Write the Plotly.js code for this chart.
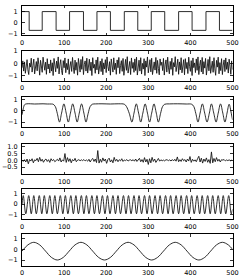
<!DOCTYPE html>
<html><head><meta charset="utf-8">
<script src="https://cdn.plot.ly/plotly-3.0.1.min.js"></script>
<style>html,body{margin:0;padding:0;background:#fff}#c{width:245px;height:280px}</style>
</head><body><div id="c"></div>
<script>
// ---- data ----
const xTicks = [0,100,200,300,400,500];

// 1: square wave (transition points)
const sqX = [0,17,48,81,113,146,178,210,243,275,307,339,372,404,437,469,500];
const sqY = [1,-0.7,1,-0.7,1,-0.7,1,-0.7,1,-0.7,1,-0.7,1,-0.7,1,-0.7,-0.7];

// 2: noise (sampled every 2)
const noiseStep = 2;
const noiseY = [
-0.35,0.20,-0.62,0.12,-0.80,-0.05,0.30,-0.52,-0.90,0.02,-0.30,0.42,-0.70,-0.18,0.35,-0.85,-0.40,0.15,-0.60,0.45,
-0.10,-0.95,0.25,-0.32,-0.72,0.50,-0.20,-0.55,0.10,-0.88,0.38,-0.45,-0.05,-0.78,0.28,-0.62,0.05,-0.98,0.40,-0.25,
-0.68,0.18,-0.40,0.52,-0.85,-0.12,0.30,-0.58,-0.92,0.22,-0.35,0.44,-0.75,0.00,-0.50,0.36,-0.88,-0.22,0.15,-0.65,
0.48,-0.30,-0.82,0.26,-0.55,0.08,-0.95,0.40,-0.15,-0.70,0.32,-0.48,0.55,-0.90,-0.10,0.20,-0.62,0.42,-0.78,-0.28,
0.34,-0.58,0.10,-0.98,0.46,-0.38,-0.08,-0.80,0.28,-0.52,0.50,-0.86,-0.20,0.18,-0.66,0.38,-0.92,0.04,-0.44,0.30,
-0.74,0.52,-0.26,-0.60,0.14,-0.95,0.36,-0.12,-0.70,0.45,-0.50,0.02,-0.88,0.28,-0.35,0.48,-0.82,-0.18,0.22,-0.64,
0.40,-0.96,-0.05,0.32,-0.56,0.54,-0.78,-0.24,0.16,-0.90,0.44,-0.40,0.08,-0.72,0.36,-0.58,0.50,-0.94,-0.14,0.26,
-0.62,0.46,-0.86,0.00,-0.46,0.38,-0.98,0.20,-0.30,0.52,-0.76,-0.10,0.30,-0.68,0.42,-0.90,-0.22,0.12,-0.54,0.48,
-0.80,0.24,-0.40,-0.92,0.36,-0.16,0.10,
-0.58,0.40,-0.94,-0.12,0.28,-0.70,0.50,-0.36,-0.84,0.16,-0.48,0.42,-0.96,0.06,-0.28,0.54,-0.66,-0.20,0.34,-0.88,
0.12,-0.52,0.46,-0.76,-0.04,0.30,-0.92,0.38,-0.42,0.08,-0.82,0.50,-0.24,-0.64,0.22,-0.98,0.44,-0.34,0.04,-0.74,
0.36,-0.56,0.52,-0.90,-0.16,0.26,-0.68,0.48,-0.86,0.14,-0.38,0.40,-0.94,-0.02,0.32,-0.60,0.54,-0.80,-0.26,0.18,
-0.72,0.46,-0.44,-0.96,0.24,-0.30,0.50,-0.84,0.06,-0.58,0.38,-0.90,-0.14,0.28,-0.66,0.44,-0.48,0.10,-0.78,0.34,
-0.22,-0.88,0.20,-0.50];

// 3: plateau + bursts (key points)
const burstX = [0,3,6,10,20,30,40,50,60,70,74,79,84,89,94,99.5,105,110,115,120.5,126,131,136,141.5,147,152,157,162,167,175,
190,210,230,243,248,255,261,266,271.5,277,282,287,292.5,298,303,308,313.5,319,324,329,334,339,350,370,390,403,
408,413,418,423,428.5,434,439.5,445,450,455.5,461,466,471.5,477,482,487,492,497,500];
const burstY = [-0.35,0.2,0.55,0.63,0.64,0.62,0.63,0.64,0.62,0.62,0.6,0.4,-0.25,-1,-0.2,0.63,-0.2,-1,-0.2,0.63,-0.2,-1,-0.2,0.63,-0.2,-1,-0.25,0.4,0.6,0.63,
0.64,0.62,0.64,0.6,0.4,-0.25,-1,-0.2,0.63,-0.2,-1,-0.2,0.63,-0.2,-1,-0.2,0.63,-0.2,-1,-0.25,0.4,0.6,0.63,0.64,0.62,0.6,
0.4,-0.25,-1,-0.2,0.63,-0.2,-1,-0.2,0.63,-0.2,-1,-0.2,0.63,-0.2,-1,-0.2,0.6,-0.2,-0.8];

// 4: spiky noise (sampled every 3)
const spikeStep = 3;
const spikeY = [
0.02,-0.08,0.05,-0.12,0.10,-0.25,0.06,-0.05,0.12,-0.18,0.04,-0.02,0.15,-0.10,0.22,-0.06,0.08,-0.14,0.03,0.10,
-0.08,0.05,-0.15,0.12,-0.03,0.06,-0.10,0.02,0.08,-0.05,0.18,-0.12,0.04,-0.06,0.50,-0.15,0.20,-0.08,0.12,-0.18,
0.06,-0.04,0.15,-0.10,0.02,0.05,-0.03,0.04,-0.02,0.06,-0.04,0.03,-0.06,0.08,-0.12,0.05,0.14,-0.08,0.10,-0.16,
0.72,-0.20,0.08,-0.14,0.18,-0.05,0.10,-0.22,0.06,0.16,-0.12,0.04,-0.18,0.22,-0.06,0.08,-0.10,0.05,-0.04,0.12,
-0.08,0.03,-0.02,0.06,-0.05,0.02,0.04,-0.03,0.05,-0.06,0.10,-0.08,0.04,0.15,-0.10,0.06,-0.14,0.20,-0.12,0.08,
-0.30,0.12,-0.18,0.22,-0.08,0.10,-0.15,0.05,0.14,-0.06,0.04,-0.03,0.02,-0.04,0.05,0.03,-0.02,0.04,-0.05,0.06,
-0.04,0.08,-0.06,0.25,-0.10,0.05,-0.08,0.12,-0.03,0.06,-0.12,0.10,-0.05,0.28,-0.15,0.08,-0.06,0.04,-0.10,0.12,
0.30,-0.12,0.16,-0.20,0.10,-0.08,0.18,-0.14,0.06,-0.22,0.62,-0.18,0.14,-0.10,0.20,-0.06,0.08,-0.12,0.05,0.02,
0.06,-0.04,0.03,-0.02,0.04,-0.03,0.02];

// 5: fast oscillation (extrema)
const fastX = [0,3,9,16,22,28,34,41,47,53,59,66,72,78,84,91,97,103,109,116,122,128,134,141,147,153,159,166,172,178,184,191,197,
203,209,216,222,228,234,241,247,253,259,266,272,278,284,291,297,303,309,316,322,328,334,341,347,353,359,366,372,378,384,391,397,
403,409,416,422,428,434,441,447,453,459,466,472,478,484,491,497,500];
const fastY = [-0.05,
0.79,-0.92,0.79,-0.92,0.79,-0.92,0.79,-0.92,0.79,-0.92,0.79,-0.92,0.79,-0.92,0.79,-0.92,0.79,-0.92,0.79,-0.92,
0.79,-0.92,0.79,-0.92,0.79,-0.92,0.79,-0.92,0.79,-0.92,0.79,-0.92,0.79,-0.92,0.79,-0.92,0.79,-0.92,0.79,-0.92,
0.79,-0.92,0.79,-0.92,0.79,-0.92,0.79,-0.92,0.79,-0.92,0.79,-0.92,0.79,-0.92,0.79,-0.92,0.79,-0.92,0.79,-0.92,
0.79,-0.92,0.79,-0.92,0.79,-0.92,0.79,-0.92,0.79,-0.92,0.79,-0.92,0.79,-0.92,0.79,-0.92,0.79,-0.92,0.79,-0.92,
-0.5];

// 6: slow sine (every 14)
const slowStep = 14;
const slowY = [-0.17,0.41,0.65,0.41,-0.17,-0.75,-0.99,-0.75,
-0.17,0.41,0.65,0.41,-0.17,-0.75,-0.99,-0.75,
-0.17,0.41,0.65,0.41,-0.17,-0.75,-0.99,-0.75,
-0.17,0.41,0.65,0.41,-0.17,-0.75,-0.99,-0.75,
-0.17,0.41,0.65,0.41];
const slowEnd = [500, 0.01];

// y ranges / ticks per panel
const yRanges = [[-1.12,1.55],[-1.38,1.0],[-1.4,1.25],[-1.0,1.2],[-1.41,1.41],[-1.5,1.42]];
const yTickVals = [[-1,0,1],[-1,0,1],[-1,0,1],[-0.5,0,0.5,1],[-1,0,1],[-1,0,1]];

// ---- build ----
const idx = (arr, step) => arr.map((_, i) => i * step);
const slowX = idx(slowY, slowStep).concat([slowEnd[0]]);
const slowYY = slowY.concat([slowEnd[1]]);

const lineStyle = {color:'#161616', width:0.9};
const traces = [
  {x:sqX, y:sqY, line:Object.assign({shape:'hv'}, lineStyle)},
  {x:idx(noiseY, noiseStep), y:noiseY, line:lineStyle},
  {x:burstX, y:burstY, line:Object.assign({shape:'spline', smoothing:1}, lineStyle)},
  {x:idx(spikeY, spikeStep), y:spikeY, line:lineStyle},
  {x:fastX, y:fastY, line:Object.assign({shape:'spline', smoothing:1}, lineStyle)},
  {x:slowX, y:slowYY, line:Object.assign({shape:'spline', smoothing:1}, lineStyle)}
].map((t, i) => Object.assign(t, {type:'scatter', mode:'lines', xaxis:'x'+(i+1), yaxis:'y'+(i+1), hoverinfo:'skip'}));

const H = 280, W = 245;
const tops = [5.5, 51, 97, 144, 189, 234];
const bots = [35, 80.5, 126.5, 174, 219, 265.5];
const font = {family:'DejaVu Sans', size:6.5, color:'#000'};
const layout = {
  width:W, height:H, margin:{l:0,r:0,t:0,b:0}, showlegend:false,
  paper_bgcolor:'#fff', plot_bgcolor:'#fff', font:font
};
for (let i = 0; i < 6; i++) {
  const s = i === 0 ? '' : String(i+1);
  layout['xaxis'+s] = {
    domain:[22/W, 232.5/W], anchor:'y'+(i+1), range:[0,500],
    tickvals:xTicks, ticks:'inside', ticklen:2.5, tickcolor:'#000', tickwidth:0.8,
    showline:true, linecolor:'#000', linewidth:1, mirror:'ticks',
    showgrid:false, zeroline:false, tickfont:font, ticklabelstandoff:1
  };
  layout['yaxis'+s] = {
    domain:[1 - bots[i]/H, 1 - tops[i]/H], anchor:'x'+(i+1), range:yRanges[i],
    tickvals:yTickVals[i], tickformat: i === 3 ? '.1f' : '', ticks:'inside', ticklen:2.5, tickcolor:'#000', tickwidth:0.8,
    showline:true, linecolor:'#000', linewidth:1, mirror:'ticks',
    showgrid:false, zeroline:false, tickfont:font, ticklabelstandoff:2
  };
}
Plotly.newPlot('c', traces, layout, {staticPlot:true, displayModeBar:false});
</script></body></html>
